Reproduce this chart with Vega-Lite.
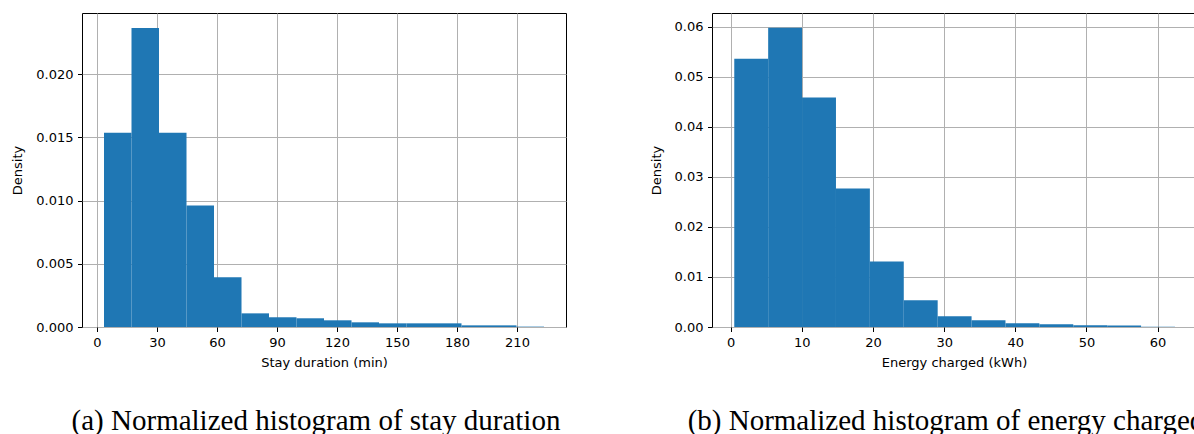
{
  "$schema": "https://vega.github.io/schema/vega-lite/v6.json",
  "padding": {"left": 11, "top": 12, "right": 0, "bottom": 0},
  "background": "white",
  "bounds": "flush",
  "spacing": 146,
  "datasets": {
    "stay": [
      {"start": 3.5, "end": 17.25, "density": 0.01538},
      {"start": 17.25, "end": 31, "density": 0.02366},
      {"start": 31, "end": 44.75, "density": 0.01538},
      {"start": 44.75, "end": 58.5, "density": 0.00961},
      {"start": 58.5, "end": 72.25, "density": 0.00393},
      {"start": 72.25, "end": 86, "density": 0.00108},
      {"start": 86, "end": 99.75, "density": 0.00077},
      {"start": 99.75, "end": 113.5, "density": 0.00069},
      {"start": 113.5, "end": 127.25, "density": 0.00053},
      {"start": 127.25, "end": 141, "density": 0.00037},
      {"start": 141, "end": 154.75, "density": 0.00029},
      {"start": 154.75, "end": 168.5, "density": 0.00029},
      {"start": 168.5, "end": 182.25, "density": 0.00029},
      {"start": 182.25, "end": 196, "density": 0.00013},
      {"start": 196, "end": 209.75, "density": 0.00013},
      {"start": 209.75, "end": 223.5, "density": 0.00003}
    ],
    "energy": [
      {"start": 0.5, "end": 5.265, "density": 0.05363},
      {"start": 5.265, "end": 10.03, "density": 0.05982},
      {"start": 10.03, "end": 14.795, "density": 0.04585},
      {"start": 14.795, "end": 19.56, "density": 0.02768},
      {"start": 19.56, "end": 24.325, "density": 0.01311},
      {"start": 24.325, "end": 29.09, "density": 0.00533},
      {"start": 29.09, "end": 33.855, "density": 0.00214},
      {"start": 33.855, "end": 38.62, "density": 0.00134},
      {"start": 38.62, "end": 43.385, "density": 0.00074},
      {"start": 43.385, "end": 48.15, "density": 0.00054},
      {"start": 48.15, "end": 52.915, "density": 0.00034},
      {"start": 52.915, "end": 57.68, "density": 0.00028},
      {"start": 57.68, "end": 62.445, "density": 0.00003}
    ]
  },
  "hconcat": [
    {
      "width": 484,
      "height": 314,
      "data": {"name": "stay"},
      "title": {"text": "(a) Normalized histogram of stay duration"},
      "mark": {"type": "rect", "color": "#1f77b4"},
      "encoding": {
        "x": {"field": "start", "type": "quantitative",
              "scale": {"domain": [-7.5, 234.5], "nice": false, "zero": false},
              "axis": {"title": "Stay duration (min)", "values": [0, 30, 60, 90, 120, 150, 180, 210], "format": "d"}},
        "x2": {"field": "end"},
        "y": {"field": "density", "type": "quantitative",
              "scale": {"domain": [0, 0.02485], "nice": false, "zero": true},
              "axis": {"title": "Density", "values": [0, 0.005, 0.01, 0.015, 0.02], "format": ".3f"}},
        "y2": {"datum": 0}
      }
    },
    {
      "width": 484,
      "height": 314,
      "data": {"name": "energy"},
      "title": {"text": "(b) Normalized histogram of energy charged"},
      "mark": {"type": "rect", "color": "#1f77b4"},
      "encoding": {
        "x": {"field": "start", "type": "quantitative",
              "scale": {"domain": [-2.63, 65.4], "nice": false, "zero": false},
              "axis": {"title": "Energy charged (kWh)", "values": [0, 10, 20, 30, 40, 50, 60], "format": "d"}},
        "x2": {"field": "end"},
        "y": {"field": "density", "type": "quantitative",
              "scale": {"domain": [0, 0.06276], "nice": false, "zero": true},
              "axis": {"title": "Density", "values": [0, 0.01, 0.02, 0.03, 0.04, 0.05, 0.06], "format": ".2f"}},
        "y2": {"datum": 0}
      }
    }
  ],
  "config": {
    "view": {"stroke": "black", "strokeWidth": 1},
    "axis": {
      "zindex": 1,
      "domain": false,
      "grid": true,
      "gridColor": "#b0b0b0",
      "gridWidth": 1,
      "gridOpacity": 1,
      "tickColor": "#000000",
      "tickSize": 4.5,
      "tickWidth": 1,
      "labelFont": "DejaVu Sans",
      "labelFontSize": 13,
      "labelColor": "#000000",
      "labelPadding": 4.5,
      "titleFont": "DejaVu Sans",
      "titleFontSize": 13,
      "titleFontWeight": "normal",
      "titleColor": "#000000",
      "titlePadding": 7,
      "labelFlush": false,
      "labelOverlap": false
    },
    "axisY": {"titlePadding": 11},
    "title": {
      "orient": "bottom",
      "anchor": "middle",
      "frame": "group",
      "font": "Liberation Serif",
      "fontSize": 29,
      "fontWeight": "normal",
      "color": "#000000",
      "offset": 38,
      "dx": -8
    }
  }
}
